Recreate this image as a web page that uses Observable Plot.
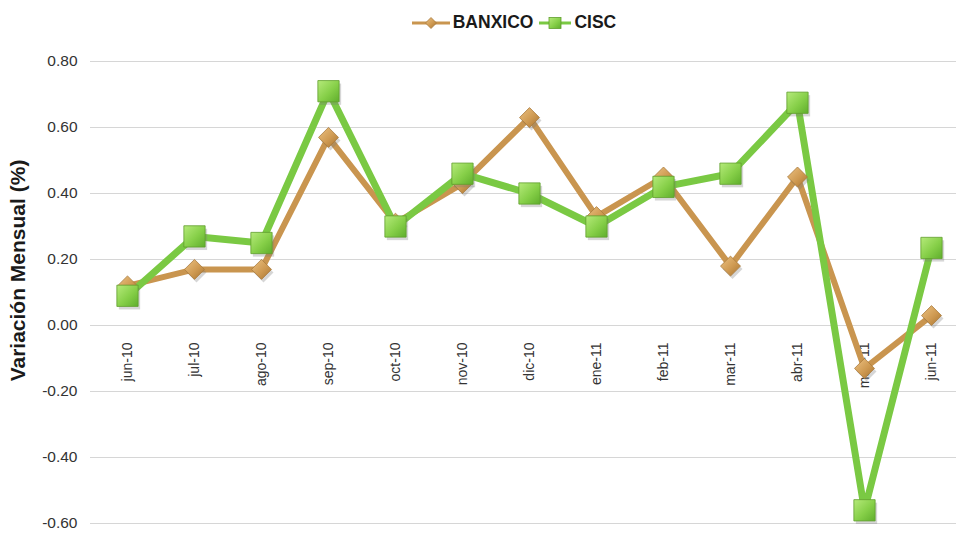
<!DOCTYPE html>
<html>
<head>
<meta charset="utf-8">
<script src="https://cdn.jsdelivr.net/npm/d3@7"></script>
<script src="https://cdn.jsdelivr.net/npm/@observablehq/plot@0.6"></script>
<style>
  html, body { margin: 0; padding: 0; background: #fff; }
  body { width: 956px; height: 535px; overflow: hidden; font-family: "Liberation Sans", Arial, sans-serif; }
  #legend { height: 45px; display: flex; align-items: center; justify-content: center; padding-left: 72px; box-sizing: border-box; font-weight: bold; font-size: 17.5px; color: #1a1a1a; }
  #legend .item { display: flex; align-items: center; margin: 0 3px; }
  #legend svg { margin-right: 3px; }
</style>
</head>
<body>
<svg width="0" height="0" style="position:absolute">
  <defs>
    <linearGradient id="gGreen" x1="0" y1="0" x2="1" y2="1">
      <stop offset="0" stop-color="#b5ea7a"/>
      <stop offset="0.55" stop-color="#86cf48"/>
      <stop offset="1" stop-color="#5fae2c"/>
    </linearGradient>
    <linearGradient id="gTan" x1="0" y1="0" x2="1" y2="1">
      <stop offset="0" stop-color="#ecc283"/>
      <stop offset="0.55" stop-color="#cf9a52"/>
      <stop offset="1" stop-color="#a7732f"/>
    </linearGradient>
  </defs>
</svg>
<div id="legend">
  <span class="item">
    <svg width="38" height="14"><line x1="0" y1="7" x2="38" y2="7" stroke="#c9954f" stroke-width="3"/><path d="M19 1.5 L24.5 7 L19 12.5 L13.5 7 Z" fill="url(#gTan)" stroke="#a87a3c" stroke-width="0.8"/></svg>
    <span>BANXICO</span>
  </span>
  <span class="item">
    <svg width="32" height="14"><line x1="0" y1="7" x2="32" y2="7" stroke="#7ac943" stroke-width="3"/><rect x="10" y="1.5" width="12" height="11" fill="url(#gGreen)" stroke="#5f9e2c" stroke-width="0.8"/></svg>
    <span>CISC</span>
  </span>
</div>
<div id="chart"></div>
<script>
const months = ["jun-10","jul-10","ago-10","sep-10","oct-10","nov-10","dic-10","ene-11","feb-11","mar-11","abr-11","may-11","jun-11"];
const banxico = [0.12, 0.17, 0.17, 0.57, 0.31, 0.43, 0.63, 0.33, 0.45, 0.18, 0.45, -0.13, 0.03];
const cisc    = [0.09, 0.27, 0.25, 0.71, 0.30, 0.46, 0.40, 0.30, 0.42, 0.46, 0.675, -0.56, 0.235];
const yTicks = [-0.6, -0.4, -0.2, 0, 0.2, 0.4, 0.6, 0.8];

const bData = months.map((m, i) => ({month: m, value: banxico[i]}));
const cData = months.map((m, i) => ({month: m, value: cisc[i]}));
const fmt = d => d.toFixed(2);

const chart = Plot.plot({
  width: 956,
  height: 490,
  marginLeft: 90,
  marginRight: 0,
  marginTop: 16,
  marginBottom: 12,
  style: {fontFamily: "'Liberation Sans', Arial, sans-serif", background: "#fff"},
  x: {type: "point", domain: months, padding: 0, insetLeft: 35, insetRight: 24, axis: null},
  y: {domain: [-0.6, 0.8], axis: null},
  marks: [
    Plot.ruleY(yTicks, {stroke: "#d6d6d6", strokeWidth: 1.2}),
    Plot.axisY(yTicks, {tickSize: 0, tickPadding: 13, tickFormat: fmt, fontSize: 15.5, fill: "#333", label: null}),
    Plot.text(["Variación Mensual (%)"], {frameAnchor: "left", textAnchor: "middle", dx: -72, dy: -22, rotate: -90, fontSize: 21, fontWeight: "bold", fill: "#1a1a1a"}),
    Plot.text(months, {x: d => d, y: () => 0, rotate: -90, textAnchor: "end", dy: 17, fontSize: 14, fill: "#333"}),
    Plot.line(bData, {x: "month", y: "value", stroke: "#c9954f", strokeWidth: 6, strokeLinejoin: "round"}),
    Plot.line(cData, {x: "month", y: "value", stroke: "#7ac943", strokeWidth: 7, strokeLinejoin: "round"}),
    Plot.dot(bData, {x: "month", y: "value", symbol: "diamond2", r: 9, fill: "#777", fillOpacity: 0.3, dx: 2, dy: 3}),
    Plot.dot(bData, {x: "month", y: "value", symbol: "diamond2", r: 9, fill: "url(#gTan)", stroke: "#a87a3c", strokeWidth: 0.8}),
    Plot.dot(cData, {x: "month", y: "value", symbol: "square", r: 12, fill: "#777", fillOpacity: 0.3, dx: 2, dy: 3}),
    Plot.dot(cData, {x: "month", y: "value", symbol: "square", r: 12, fill: "url(#gGreen)", stroke: "#5f9e2c", strokeWidth: 0.8})
  ]
});
document.getElementById("chart").append(chart);
</script>
</body>
</html>
